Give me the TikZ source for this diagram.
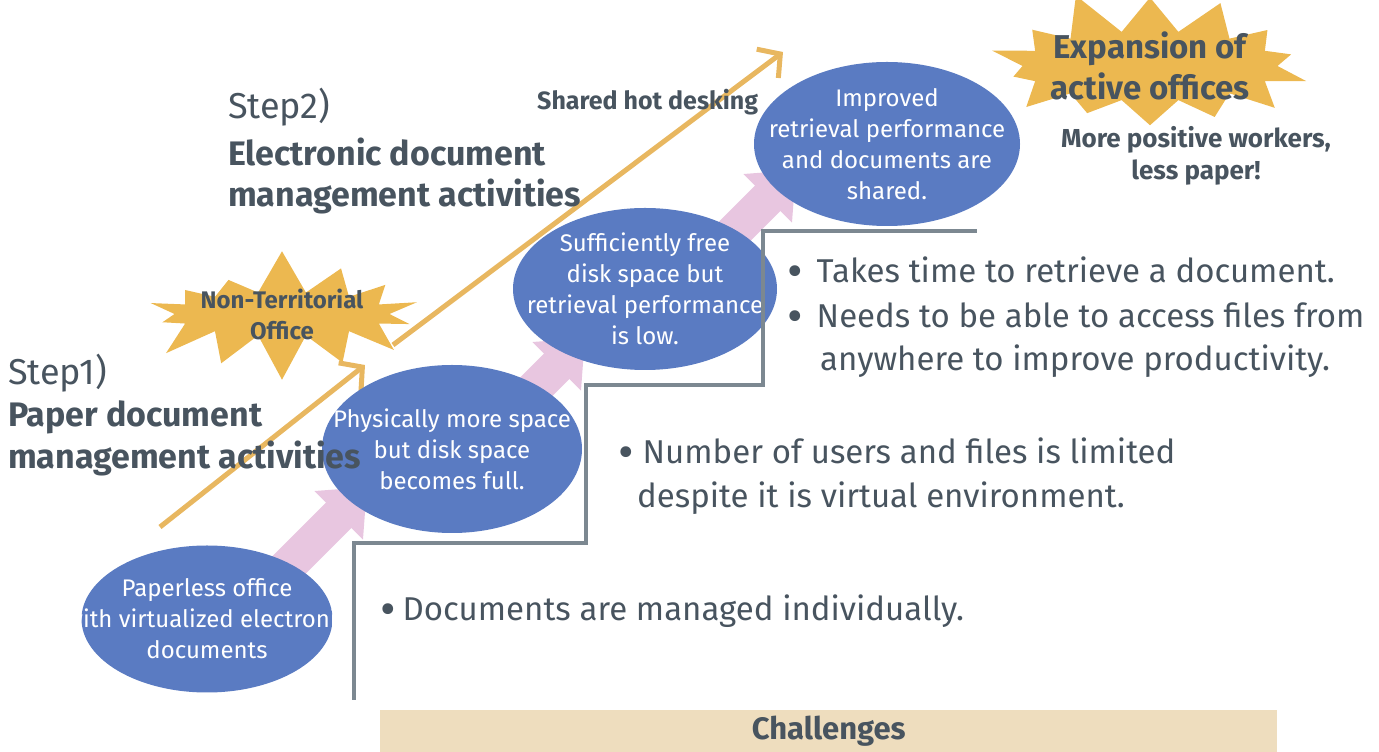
\documentclass[tikz,border=0pt]{standalone}
\usepackage{fontspec}
\setmainfont{Fira Sans}
\usetikzlibrary{arrows.meta,shapes.geometric,shapes.symbols,backgrounds,positioning}

\definecolor{stageblue}{HTML}{5A7BC2}
\definecolor{flowpink}{HTML}{E8C6E0}
\definecolor{trendgold}{HTML}{E8B760}
\definecolor{burstgold}{HTML}{ECB850}
\definecolor{ink}{HTML}{48545F}
\definecolor{stairgrey}{HTML}{7C8891}
\definecolor{sand}{HTML}{EEDDBE}

\newcommand{\bulletmark}{\raisebox{-5pt}{\scalebox{1.45}{•}}}

\begin{document}
\begin{tikzpicture}[x=1pt, y=1pt, text=ink, font=\fontsize{33}{44}\selectfont]
        \tikzstyle{stage}=[ellipse, fill=stageblue, inner sep=0pt]
        \tikzstyle{stagetext}=[text=white, align=center, inner sep=0pt, font=\fontsize{24}{31}\selectfont]
        \tikzstyle{burst}=[starburst, fill=burstgold, starburst points=14, starburst point height=45pt, random starburst=7, inner sep=0pt]
        \tikzstyle{bursttext}=[align=center, inner sep=0pt, text=ink]
        \tikzstyle{flow}=[draw=flowpink, line width=36pt, -{Triangle[length=40pt, width=66pt]}]
        \tikzstyle{trend}=[draw=trendgold, line width=5pt, -{Straight Barb[length=16pt, width=36pt]}]
        \tikzstyle{line}=[anchor=base west, inner sep=0pt]
        \tikzstyle{heading}=[line, font=\bfseries\fontsize{34}{44}\selectfont]
        \tikzstyle{stair}=[draw=stairgrey, line width=4pt]

        \useasboundingbox (0,0) rectangle (1379,752);

        \node[burst, minimum width=305pt, minimum height=134pt,
              label={[bursttext, font=\bfseries\fontsize{24}{31}\selectfont]center:{Non-Territorial\\Office}}] (territorial) at (282,438) {};
        \node[burst, minimum width=345pt, minimum height=160pt, random starburst=11,
              label={[bursttext, font=\bfseries\fontsize{33}{41}\selectfont]center:{Expansion of\\active offices}}] (expansion) at (1150,686) {};

        \coordinate (t1a) at (160,225);
        \coordinate (t1b) at (365,387);
        \coordinate (t2a) at (393,407);
        \coordinate (t2b) at (783,700);
        \draw[trend] (t1a) -- (t1b);
        \draw[trend] (t2a) -- (t2b);

        \node[stage, minimum width=251pt, minimum height=147pt, label={[stagetext]center:{Paperless office\\with virtualized electronic\\documents}}] (paperless) at (207,133) {};
        \node[stage, minimum width=260pt, minimum height=168pt, label={[stagetext]center:{Physically more space\\but disk space\\becomes full.}}] (space) at (452,303) {};
        \node[stage, minimum width=264pt, minimum height=162pt, label={[stagetext]center:{Sufficiently free\\disk space but\\retrieval performance\\is low.}}] (retrieval) at (645,463) {};
        \node[stage, minimum width=266pt, minimum height=164pt, label={[stagetext]center:{Improved\\retrieval performance\\and documents are\\shared.}}] (shared) at (887,608) {};

        \begin{pgfonlayer}{background}
        \path
        ([shift={(73,45)}]paperless.center)  edge [flow] ([shift={(-85,-38)}]space.center)
        ([shift={(45,23)}]space.center)      edge [flow] ([shift={(-60,-49)}]retrieval.center)
        ([shift={(63,31)}]retrieval.center)  edge [flow] ([shift={(-91,-26)}]shared.center);
        \end{pgfonlayer}

        \coordinate (s0) at (354,52);
        \draw[stair] (s0) |- (586,209) |- (763,367) |- (977,521);

        \node[line, font=\fontsize{36}{44}\selectfont] (step1) at (8,367) {Step1)};
        \node[heading] (paper1) at (8,325)   {Paper document};
        \node[heading] (paper2) at (8,283)   {management activities};
        \node[line, font=\fontsize{36}{44}\selectfont] (step2) at (228,633) {Step2)};
        \node[heading] (elec1)  at (228,586) {Electronic document};
        \node[heading] (elec2)  at (228,545) {management activities};

        \node[line, font=\bfseries\fontsize{25}{30}\selectfont] (hotdesk) at (537,642) {Shared hot desking};
        \node[anchor=base, inner sep=0pt, font=\bfseries\fontsize{26}{32}\selectfont] (workers) at (1196,604) {More positive workers,};
        \node[anchor=base, inner sep=0pt, font=\bfseries\fontsize{26}{32}\selectfont] (lesspaper) at (1196,572) {less paper!};

        \node[line] (c3a) at (787,469) {\bulletmark\hspace{14pt}Takes time to retrieve a document.};
        \node[line] (c3b) at (787,424) {\bulletmark\hspace{14pt}Needs to be able to access files from};
        \node[line] (c3c) at (820,381) {anywhere to improve productivity.};
        \node[line] (c2a) at (618,288) {\bulletmark\hspace{9pt}Number of users and files is limited};
        \node[line] (c2b) at (637,244) {despite it is virtual environment.};
        \node[line] (c1a) at (380,131) {\bulletmark\hspace{7pt}Documents are managed individually.};

        \node[fill=sand, anchor=south west, minimum width=897pt, minimum height=42pt, inner sep=0pt, font=\bfseries\fontsize{31}{36}\selectfont] (challenges) at (380,0) {Challenges};
\end{tikzpicture}
\end{document}
